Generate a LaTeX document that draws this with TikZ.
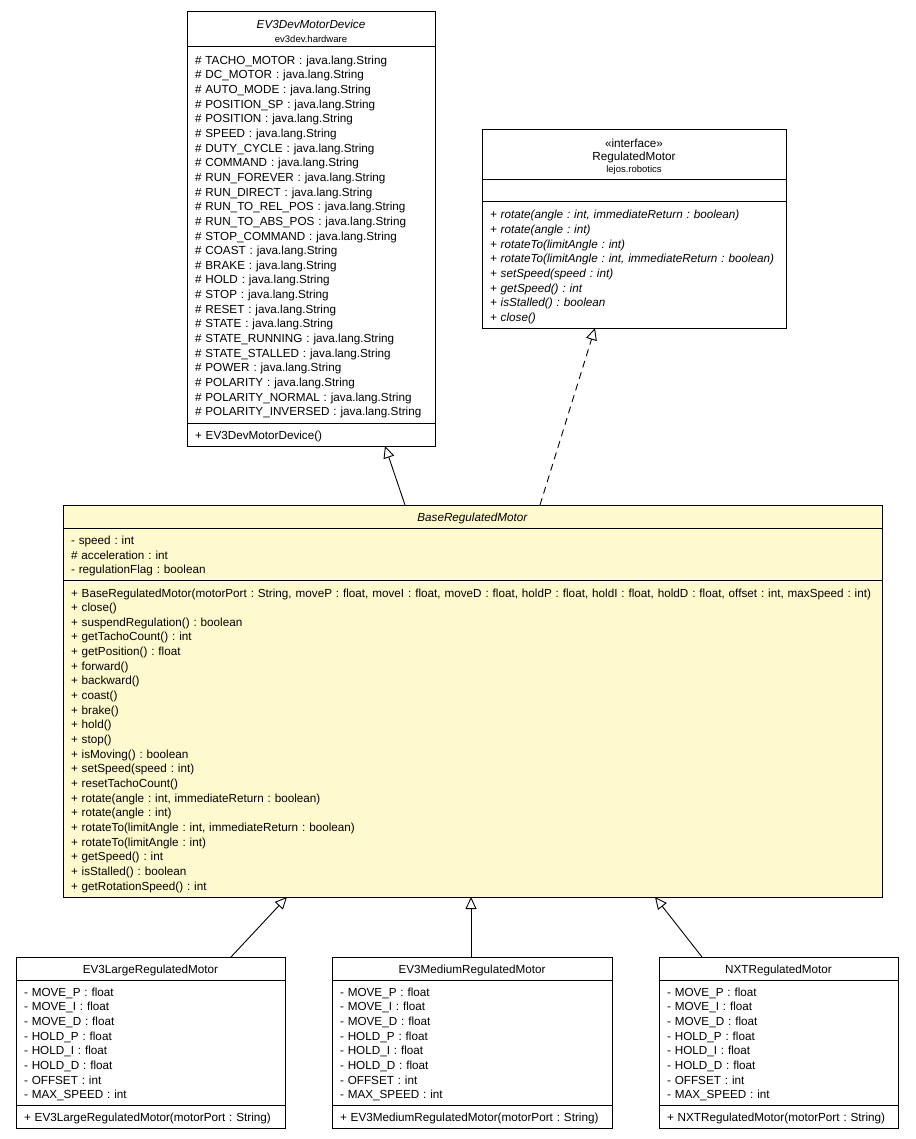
\documentclass[tikz,border=0pt]{standalone}
\usepackage{fontspec}
\setmainfont{Liberation Sans}
\usetikzlibrary{positioning, arrows.meta}
\definecolor{basefill}{RGB}{255,250,205}

\newcommand{\pkgname}[1]{{\fontsize{9.5}{11}\selectfont #1}}
\newcommand{\motorattrs}{- MOVE\_P : float\\- MOVE\_I : float\\- MOVE\_D : float\\- HOLD\_P : float\\- HOLD\_I : float\\- HOLD\_D : float\\- OFFSET : int\\- MAX\_SPEED : int}

\begin{document}
\begin{tikzpicture}[x=1pt, y=-1pt, node distance=0pt,
    compartment/.style={draw, fill=white, line width=1pt, outer sep=0pt, inner xsep=8pt, inner ysep=2pt, align=left, font=\fontsize{11.7}{14.65}\selectfont\frenchspacing, execute at begin node={\rule{0pt}{12.5pt}}},
    header/.style={compartment, align=center},
    inherit/.style={draw, line width=0.9pt, -{Triangle[open, length=12pt, width=11pt]}},
    realize/.style={inherit, dash pattern=on 7pt off 5pt}]

    \fill [white] (0,0) rectangle (915,1139);
    \useasboundingbox (0,0) rectangle (915,1139);

    % EV3DevMotorDevice
    \node [header, text width=232pt, minimum height=35pt, anchor=north west] (dev) at (187,12) {\textit{EV3DevMotorDevice}\\[-1pt]\pkgname{ev3dev.hardware}};
    \node [compartment, text width=232pt, minimum height=376pt, below=of dev] (devattrs) {\# TACHO\_MOTOR : java.lang.String\\\# DC\_MOTOR : java.lang.String\\\# AUTO\_MODE : java.lang.String\\\# POSITION\_SP : java.lang.String\\\# POSITION : java.lang.String\\\# SPEED : java.lang.String\\\# DUTY\_CYCLE : java.lang.String\\\# COMMAND : java.lang.String\\\# RUN\_FOREVER : java.lang.String\\\# RUN\_DIRECT : java.lang.String\\\# RUN\_TO\_REL\_POS : java.lang.String\\\# RUN\_TO\_ABS\_POS : java.lang.String\\\# STOP\_COMMAND : java.lang.String\\\# COAST : java.lang.String\\\# BRAKE : java.lang.String\\\# HOLD : java.lang.String\\\# STOP : java.lang.String\\\# RESET : java.lang.String\\\# STATE : java.lang.String\\\# STATE\_RUNNING : java.lang.String\\\# STATE\_STALLED : java.lang.String\\\# POWER : java.lang.String\\\# POLARITY : java.lang.String\\\# POLARITY\_NORMAL : java.lang.String\\\# POLARITY\_INVERSED : java.lang.String};
    \node [compartment, text width=232pt, minimum height=23pt, below=of devattrs] (devops) {+ EV3DevMotorDevice()};

    % RegulatedMotor
    \node [header, text width=288pt, minimum height=50pt, anchor=north west] (reg) at (482,130) {«interface»\\[-2pt]RegulatedMotor\\[-2pt]\pkgname{lejos.robotics}};
    \node [compartment, text width=288pt, minimum height=22pt, below=of reg] (regattrs) {};
    \node [compartment, text width=288pt, minimum height=126pt, below=of regattrs, font=\fontsize{11.7}{14.65}\selectfont\frenchspacing\itshape] (regops) {\mbox{+ rotate(angle : int, immediateReturn : boolean)}\\+ rotate(angle : int)\\+ rotateTo(limitAngle : int)\\\mbox{+ rotateTo(limitAngle : int, immediateReturn : boolean)}\\+ setSpeed(speed : int)\\+ getSpeed() : int\\+ isStalled() : boolean\\+ close()};

    % BaseRegulatedMotor
    \node [header, fill=basefill, text width=803pt, minimum height=23pt, anchor=north west] (base) at (63,505) {\textit{BaseRegulatedMotor}};
    \node [compartment, fill=basefill, text width=803pt, minimum height=52pt, below=of base] (baseattrs) {- speed : int\\\# acceleration : int\\- regulationFlag : boolean};
    \node [compartment, fill=basefill, text width=803pt, minimum height=317pt, below=of baseattrs] (baseops) {\mbox{+ BaseRegulatedMotor(motorPort : String, moveP : float, moveI : float, moveD : float, holdP : float, holdI : float, holdD : float, offset : int, maxSpeed : int)}\\+ close()\\+ suspendRegulation() : boolean\\+ getTachoCount() : int\\+ getPosition() : float\\+ forward()\\+ backward()\\+ coast()\\+ brake()\\+ hold()\\+ stop()\\+ isMoving() : boolean\\+ setSpeed(speed : int)\\+ resetTachoCount()\\+ rotate(angle : int, immediateReturn : boolean)\\+ rotate(angle : int)\\+ rotateTo(limitAngle : int, immediateReturn : boolean)\\+ rotateTo(limitAngle : int)\\+ getSpeed() : int\\+ isStalled() : boolean\\+ getRotationSpeed() : int};

    % EV3LargeRegulatedMotor
    \node [header, text width=253pt, minimum height=23pt, anchor=north west] (large) at (16,957) {EV3LargeRegulatedMotor};
    \node [compartment, text width=253pt, minimum height=125pt, below=of large] (largeattrs) {\motorattrs};
    \node [compartment, text width=253pt, minimum height=23pt, below=of largeattrs] (largeops) {+ EV3LargeRegulatedMotor(motorPort : String)};

    % EV3MediumRegulatedMotor
    \node [header, text width=264pt, minimum height=23pt, anchor=north west] (medium) at (332,957) {EV3MediumRegulatedMotor};
    \node [compartment, text width=264pt, minimum height=125pt, below=of medium] (mediumattrs) {\motorattrs};
    \node [compartment, text width=264pt, minimum height=23pt, below=of mediumattrs] (mediumops) {+ EV3MediumRegulatedMotor(motorPort : String)};

    % NXTRegulatedMotor
    \node [header, text width=223pt, minimum height=23pt, anchor=north west] (nxt) at (659,957) {NXTRegulatedMotor};
    \node [compartment, text width=223pt, minimum height=125pt, below=of nxt] (nxtattrs) {\motorattrs};
    \node [compartment, text width=223pt, minimum height=23pt, below=of nxtattrs] (nxtops) {+ NXTRegulatedMotor(motorPort : String)};

    \path [inherit] ([xshift=-67.5pt]base.north) -- ([xshift=74pt]devops.south);
    \path [realize] ([xshift=67.5pt]base.north) -- ([xshift=-39pt]regops.south);
    \path [inherit] ([xshift=80.5pt]large.north) -- ([xshift=-185.5pt]baseops.south);
    \path [inherit] ([xshift=-1pt]medium.north) -- ([xshift=-1.5pt]baseops.south);
    \path [inherit] ([xshift=-76.5pt]nxt.north) -- ([xshift=182.5pt]baseops.south);
\end{tikzpicture}
\end{document}
